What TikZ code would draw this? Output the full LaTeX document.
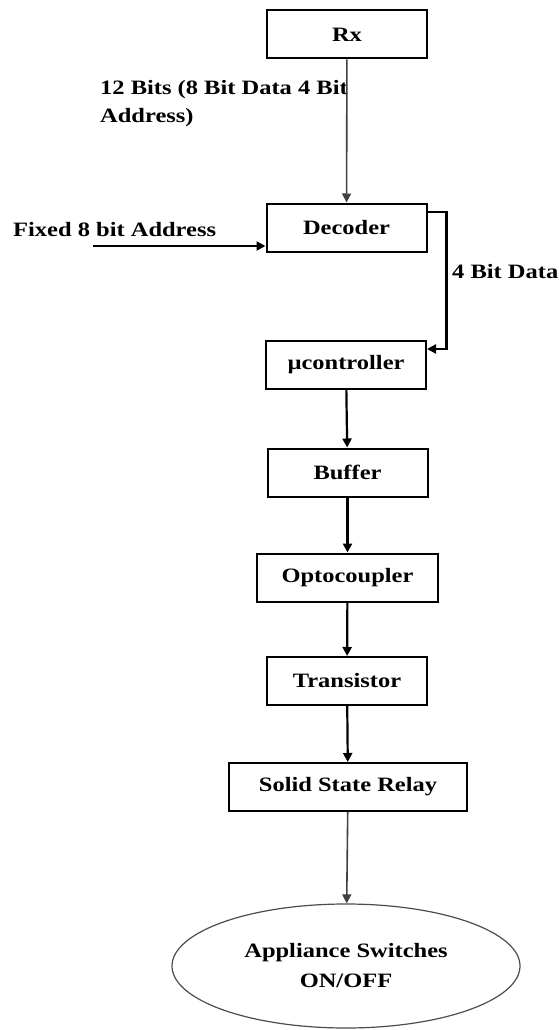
\documentclass[tikz,border=0pt]{standalone}
\usepackage{fontspec}
\setmainfont{Liberation Serif}[FakeStretch=1.2]
\usetikzlibrary{arrows.meta,shapes.geometric}

\tikzset{
    blockbox/.style={draw, line width=2pt, minimum width=160pt, minimum height=48pt, inner sep=0pt, font=\fontsize{20.4}{24}\selectfont\bfseries},
    flowarrow/.style={line width=2.2pt, -{Triangle[length=9pt,width=9pt]}},
    thinarrow/.style={line width=1.6pt, black!75, -{Triangle[length=9pt,width=9pt]}},
    lbl/.style={font=\fontsize{20.4}{28}\selectfont\bfseries, inner sep=0pt}
}

\begin{document}
\begin{tikzpicture}[x=1pt, y=-1pt]
        \useasboundingbox (0,0) rectangle (558,1030);
        % blocks
        \node[blockbox] (rx) at (347,34.5) {Rx};
        \node[blockbox] (decoder) at (346.5,227.5) {Decoder};
        \node[blockbox] (ucontroller) at (346,364.5) {µcontroller};
        \node[blockbox] (buffer) at (347.5,472.5) {Buffer};
        \node[blockbox, minimum width=181pt] (opto) at (347.5,577.5) {Optocoupler};
        \node[blockbox] (transistor) at (347,681) {Transistor};
        \node[blockbox, minimum width=238pt] (ssr) at (348,787) {Solid State Relay};
        \node[ellipse, draw=black!70, line width=1.2pt, minimum width=348pt, minimum height=124pt, align=center,
              font=\fontsize{20.4}{30}\selectfont\bfseries] (switches) at (346,966) {Appliance Switches\\ON/OFF};
        % labels
        \node[lbl, anchor=west, align=left] (bitslbl) at (100,104) {12 Bits (8 Bit Data 4 Bit\\Address)};
        \node[lbl, anchor=west] (fixedlbl) at (13,230) {Fixed 8 bit Address};
        \node[lbl, anchor=west] (datalbl) at (452,272) {4 Bit Data};
        \coordinate (fixstart) at (93,246);
        % connectors
        \draw[thinarrow] (rx) -- (decoder);
        \draw[flowarrow] (fixstart) -- (fixstart -| decoder.west);
        \draw[flowarrow] ([yshift=15.5pt]decoder.east) -- ++(19,0) |- ([yshift=15.5pt]ucontroller.east);
        \draw[flowarrow] (ucontroller) -- (buffer);
        \draw[flowarrow] (buffer) -- (opto);
        \draw[flowarrow] (opto) -- (transistor);
        \draw[flowarrow] (transistor) -- (ssr);
        \draw[thinarrow] (ssr) -- (switches);
\end{tikzpicture}
\end{document}
